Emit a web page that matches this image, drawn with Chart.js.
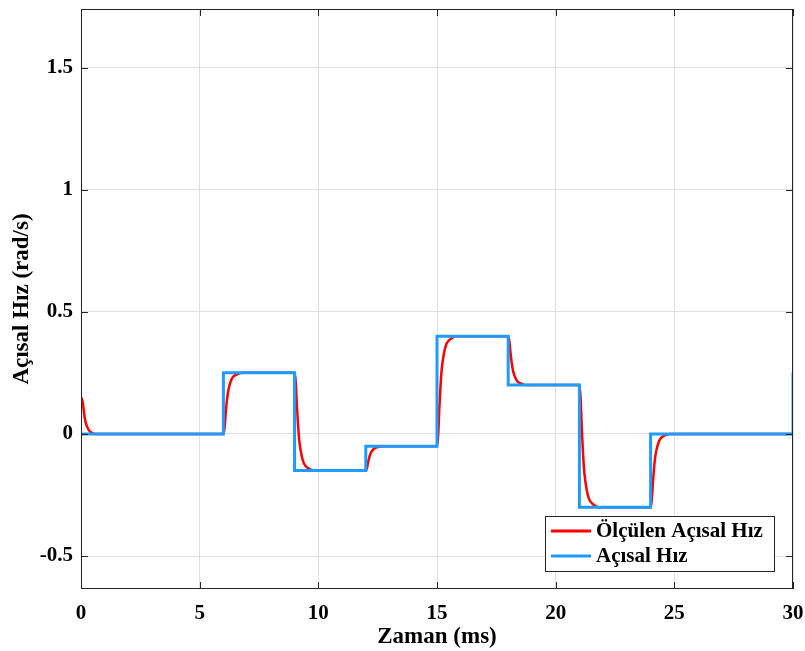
<!DOCTYPE html>
<html>
<head>
<meta charset="utf-8">
<script src="https://cdn.jsdelivr.net/npm/chart.js@4"></script>
<style>
  html, body { margin: 0; padding: 0; background: #fff; }
  #wrap { width: 805px; height: 651px; }
</style>
</head>
<body>
<div id="wrap"><canvas id="chart" width="805" height="651"></canvas></div>
<script>
// reference (step) angular speed
const refTime = [0, 6, 6, 9, 9, 12, 12, 15, 15, 18, 18, 21, 21, 24, 24, 30, 30];
const refValue = [0, 0, 0.25, 0.25, -0.15, -0.15, -0.05, -0.05, 0.4, 0.4, 0.2, 0.2, -0.3, -0.3, 0, 0, 0.25];

// measured angular speed (lags behind the reference)
const measTime = [
  0, 0.05, 0.1, 0.15, 0.2, 0.3, 0.4, 0.6,
  6, 6.05, 6.1, 6.15, 6.2, 6.3, 6.4, 6.6, 6.8,
  9, 9.05, 9.1, 9.15, 9.2, 9.3, 9.4, 9.6, 9.8,
  12, 12.05, 12.1, 12.15, 12.2, 12.3, 12.4, 12.6, 12.8,
  15, 15.05, 15.1, 15.15, 15.2, 15.3, 15.4, 15.6, 15.8,
  18, 18.05, 18.1, 18.15, 18.2, 18.3, 18.4, 18.6, 18.8,
  21, 21.05, 21.1, 21.15, 21.2, 21.3, 21.4, 21.6, 21.8,
  24, 24.05, 24.1, 24.15, 24.2, 24.3, 24.4, 24.6, 24.8,
  30
];
const measValue = [
  0.15, 0.14, 0.11, 0.07, 0.045, 0.02, 0.008, 0,
  0, 0.025, 0.088, 0.138, 0.175, 0.213, 0.233, 0.245, 0.25,
  0.25, 0.21, 0.11, 0.03, -0.03, -0.09, -0.122, -0.142, -0.15,
  -0.15, -0.14, -0.115, -0.095, -0.08, -0.065, -0.057, -0.052, -0.05,
  -0.05, -0.005, 0.108, 0.198, 0.265, 0.333, 0.369, 0.391, 0.4,
  0.4, 0.38, 0.33, 0.29, 0.26, 0.23, 0.214, 0.204, 0.2,
  0.2, 0.15, 0.025, -0.075, -0.15, -0.225, -0.265, -0.29, -0.3,
  -0.3, -0.27, -0.195, -0.135, -0.09, -0.045, -0.021, -0.006, 0,
  0
];

const xTicks = [0, 5, 10, 15, 20, 25, 30];
const yTicks = [-0.5, 0, 0.5, 1, 1.5];
const seriesLabels = ["Ölçülen Açısal Hız", "Açısal Hız"];
const seriesColors = ["#ff0000", "#1e9bff"];

const FONT = "'Liberation Serif', 'Times New Roman', serif";

const toPoints = (xs, ys) => xs.map((x, i) => ({ x: x, y: ys[i] }));

// box, inward ticks and the legend, drawn over the data like MATLAB does
const boxPlugin = {
  id: "box",
  afterDatasetsDraw(chart) {
    const { ctx, chartArea: a, scales } = chart;
    ctx.save();
    ctx.strokeStyle = "#262626";
    ctx.lineWidth = 1;
    ctx.strokeRect(a.left + 0.5, a.top + 0.5, a.right - a.left - 1, a.bottom - a.top - 1);
    ctx.beginPath();
    xTicks.forEach((v) => {
      const px = Math.round(scales.x.getPixelForValue(v)) + 0.5;
      ctx.moveTo(px, a.bottom); ctx.lineTo(px, a.bottom - 7);
      ctx.moveTo(px, a.top); ctx.lineTo(px, a.top + 7);
    });
    yTicks.forEach((v) => {
      const py = Math.round(scales.y.getPixelForValue(v)) + 0.5;
      ctx.moveTo(a.left, py); ctx.lineTo(a.left + 7, py);
      ctx.moveTo(a.right, py); ctx.lineTo(a.right - 7, py);
    });
    ctx.stroke();

    // legend
    const lx = 545, ly = 516, lw = 229, lh = 55;
    ctx.fillStyle = "#fff";
    ctx.fillRect(lx, ly, lw, lh);
    ctx.strokeStyle = "#262626";
    ctx.strokeRect(lx + 0.5, ly + 0.5, lw, lh);
    ctx.font = "bold 21px " + FONT;
    ctx.textBaseline = "middle";
    seriesLabels.forEach((lab, i) => {
      const y = ly + 15 + i * 25;
      ctx.strokeStyle = seriesColors[i];
      ctx.lineWidth = 3;
      ctx.beginPath();
      ctx.moveTo(lx + 6, y); ctx.lineTo(lx + 46, y);
      ctx.stroke();
      ctx.fillStyle = "#000";
      ctx.fillText(lab, lx + 51, y + 1);
    });
    ctx.restore();
  },
};

new Chart(document.getElementById("chart"), {
  type: "line",
  data: {
    datasets: [
      {
        label: seriesLabels[1],
        data: toPoints(refTime, refValue),
        borderColor: seriesColors[1],
        borderWidth: 3,
        pointRadius: 0,
        tension: 0,
        order: 0,
      },
      {
        label: seriesLabels[0],
        data: toPoints(measTime, measValue),
        borderColor: seriesColors[0],
        borderWidth: 2.5,
        pointRadius: 0,
        cubicInterpolationMode: "monotone",
        order: 1,
      },
    ],
  },
  options: {
    responsive: false,
    animation: false,
    layout: { padding: { top: 9, right: 12, left: 0, bottom: 0 } },
    plugins: { legend: { display: false }, tooltip: { enabled: false } },
    scales: {
      x: {
        type: "linear",
        min: 0,
        max: 30,
        afterBuildTicks: (s) => { s.ticks = xTicks.map((v) => ({ value: v })); },
        afterFit: (s) => { s.height = 62; s.paddingLeft = 0; s.paddingRight = 0; },
        grid: { color: "#e0e0e0", drawTicks: false },
        border: { display: false },
        ticks: { padding: 12, color: "#000", font: { family: FONT, size: 21, weight: "bold" }, maxRotation: 0 },
        title: { display: true, text: "Zaman (ms)", color: "#000", padding: { top: 0, bottom: 0 }, font: { family: FONT, size: 23, weight: "bold" } },
      },
      y: {
        type: "linear",
        min: -0.635,
        max: 1.74,
        afterBuildTicks: (s) => { s.ticks = yTicks.map((v) => ({ value: v })); },
        afterFit: (s) => { s.width = 81; s.paddingTop = 0; s.paddingBottom = 0; },
        grid: { color: "#e0e0e0", drawTicks: false },
        border: { display: false },
        ticks: { padding: 8, color: "#000", font: { family: FONT, size: 21, weight: "bold" }, callback: (v) => String(v) },
        title: { display: true, text: "Açısal Hız (rad/s)", color: "#000", padding: { top: 8, bottom: 0 }, font: { family: FONT, size: 23, weight: "bold" } },
      },
    },
  },
  plugins: [boxPlugin],
});
</script>
</body>
</html>
